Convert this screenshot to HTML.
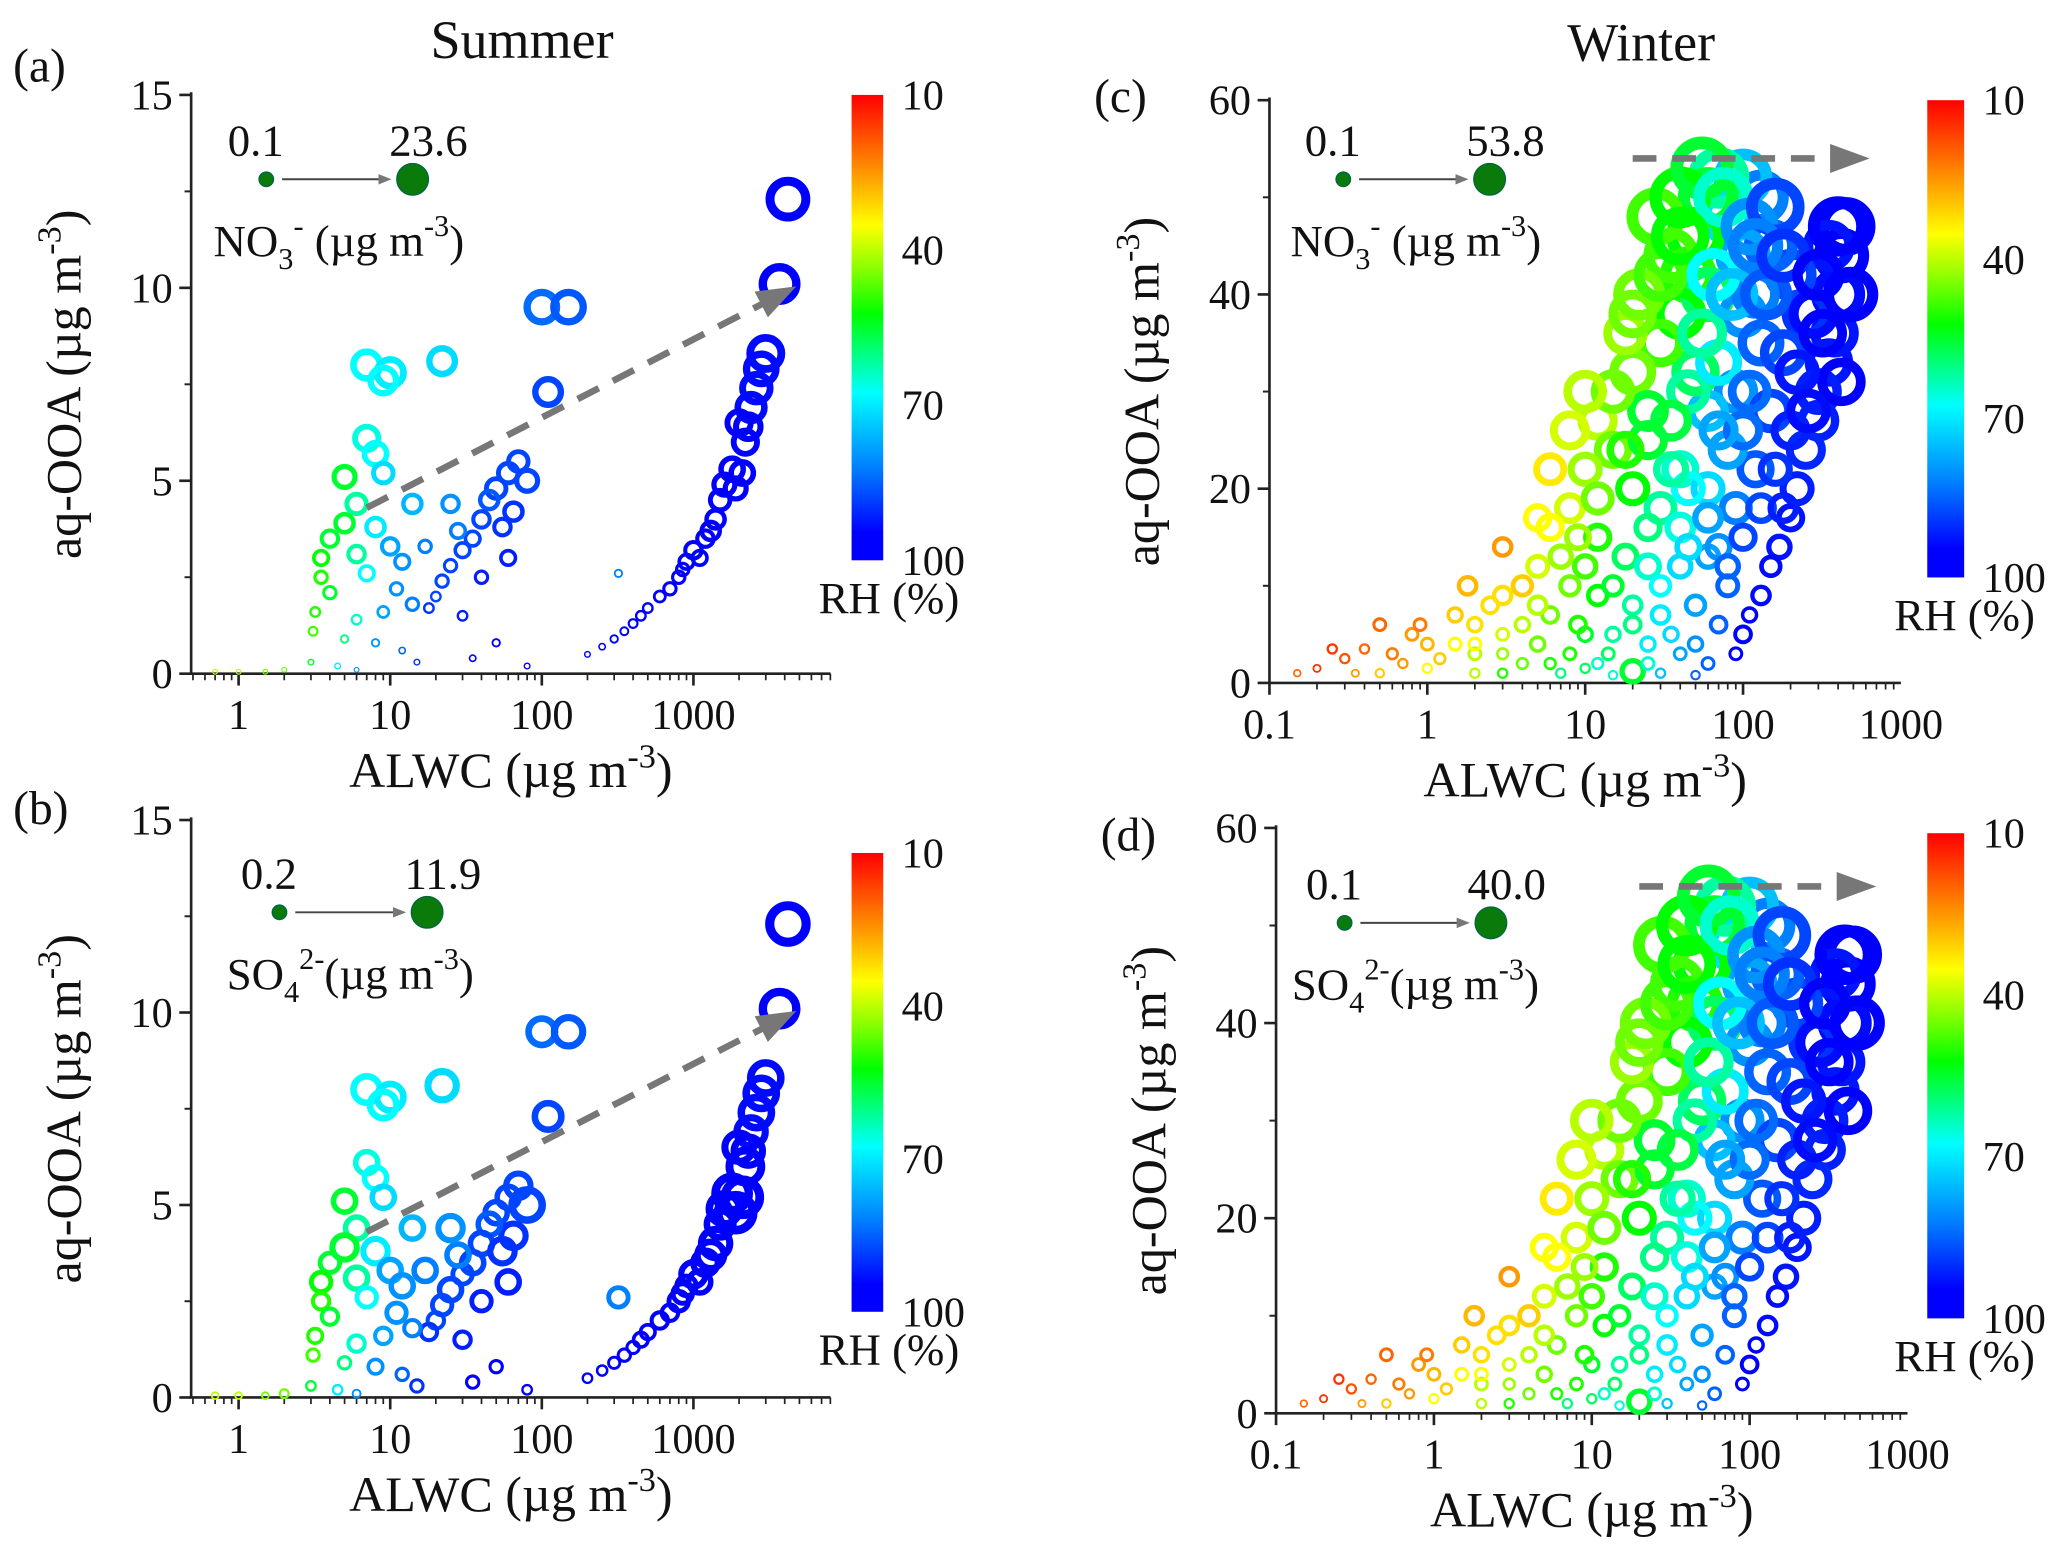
<!DOCTYPE html>
<html><head><meta charset="utf-8"><style>
html,body{margin:0;padding:0;background:#fff;}
svg{display:block;}
text{font-family:"Liberation Serif",serif;fill:#111;}
</style></head><body>
<svg id="fig" width="2067" height="1557" viewBox="0 0 1568 1181" preserveAspectRatio="none" xmlns="http://www.w3.org/2000/svg">
<defs>
<linearGradient id="rhgrad" x1="0" y1="0" x2="0" y2="1">
<stop offset="0" stop-color="#ff0000"/><stop offset="0.17" stop-color="#ff9900"/><stop offset="0.28" stop-color="#ffff00"/><stop offset="0.38" stop-color="#80ff00"/><stop offset="0.47" stop-color="#00ff00"/><stop offset="0.64" stop-color="#00ffff"/><stop offset="0.8" stop-color="#0080ff"/><stop offset="0.94" stop-color="#0000ff"/><stop offset="1" stop-color="#0000ff"/>
</linearGradient>
<marker id="ah" markerWidth="10" markerHeight="8" refX="2" refY="4" orient="auto" markerUnits="userSpaceOnUse" viewBox="0 0 10 8"><path d="M0,0 L10,4 L0,8 z" fill="#777"/></marker>
<marker id="ahs" markerWidth="30" markerHeight="22" refX="2" refY="11" orient="auto" markerUnits="userSpaceOnUse"><path d="M0,0 L30,11 L0,22 z" fill="#777"/></marker>
</defs>
<text x="396" y="44" font-size="41" text-anchor="middle">Summer</text>
<text x="1245" y="46" font-size="41" text-anchor="middle">Winter</text>
</svg>
<script>
// Summer data (ALWC, aq-OOA, RH, NO3-, SO4 2-)
const sALWC=[4200,3700,3000,2800,2600,2400,2300,2000,2200,2100,1800,1900,1600,1500,1400,1300,1200,1000,1100,900,850,800,700,600,500,450,400,350,300,320,250,200,
100,150,110,70,80,60,50,65,45,40,55,35,30,25,22,20,18,28,25,17,60,40,30,50,35,80,
7,10,9,22,7,8,5,9,14,6,5,4,8,10,12,6,3.5,3.5,4,7,11,14,9,6,3.2,3.1,5,8,12,15,3,4.5,6,1,1.5,0.7,2];
const sOOA=[12.3,10.1,8.3,7.9,7.4,6.9,6.4,6.5,6.0,5.2,5.3,4.8,4.9,4.5,4.0,3.7,3.5,3.2,3.0,2.9,2.7,2.5,2.2,2.0,1.7,1.5,1.3,1.1,0.9,2.6,0.7,0.5,
9.5,9.5,7.3,5.5,5.0,5.2,4.8,4.2,4.5,4.0,3.8,3.5,3.2,2.8,2.4,2.0,1.7,3.7,4.4,3.3,3.0,2.5,1.5,0.8,0.4,0.2,
8.0,7.8,7.6,8.1,6.1,5.7,5.1,5.2,4.4,4.4,3.9,3.5,3.8,3.3,2.9,3.1,3.0,2.5,2.1,2.6,2.2,1.8,1.6,1.4,1.6,1.1,0.9,0.8,0.6,0.3,0.3,0.2,0.1,0.05,0.05,0.05,0.1];
const sRH=[95,95,94,94,94,94,95,95,95,95,95,95,95,95,95,95,95,95,95,95,95,95,95,95,95,95,95,95,95,82,95,95,
84,86,88,88,88,88,88,90,86,88,90,88,88,88,88,88,90,82,80,82,92,92,92,95,95,95,
68,70,68,72,66,68,55,72,76,62,55,55,70,78,80,62,52,50,55,68,80,82,78,65,50,48,60,80,85,90,55,70,80,40,45,40,45];
const sNO3=[23,20,17,15,13,12,10,9,9,8,8,7,7,6,5,5,4,4,3,3,2,2,2,1.5,1,1,0.8,0.6,0.5,0.5,0.3,0.2,
15,15,11,6,7,6,6,5,5,4,4,3,3,2,2,1,1,3,4,2,3,2,1,0.5,0.3,0.2,
12,12,11,11,9,8,7,6,5,6,5,4,5,4,3,4,3,2,2,3,2,2,1.5,1,1,0.8,0.5,0.5,0.3,0.2,0.2,0.2,0.1,0.1,0.1,0.1,0.1];
const sSO4=[12,10,8,8,8,7,7,7,9,11,10,11,8,6,7,6,5,5,4,3,3,3,2,2,1.5,1.5,1,1,0.8,3,0.6,0.5,
6,7,6,5,8,4,4,5,4,4,5,4,3,4,3,2,2,4,5,4,4,3,2,1,1,0.5,
6,6,6,7,4,4,4,4,4,4,5,3,5,4,4,4,3,2,2,3,3,2,2,2,1.5,1,1,1.5,1,1,0.5,0.5,0.3,0.2,0.2,0.2,0.4];
// Winter data (ALWC, aq-OOA, RH, size)
const wALWC=[450,420,400,380,350,300,420,300,250,220,200,170,150,130,110,100,90,350,250,200,150,130,100,80,100,70,60,50,45,60,35,40,100,130,90,60,150,120,80,50,30,20,18,12,15,10,25,40,60,90,30,20,8,6,12,18,25,40,60,80,50,30,20,12,8,5,4,3,3,6,10,15,25,40,60,20,8,5,3,2,1.5,1.5,2,1,0.8,0.6,0.5,0.4,0.3,0.25,0.2,0.15,1,3,7,12,4,2,0.5,45,70,120,35,40,180,280,100,130,160,70,22,28,40,55,75,110,160,400,
15,20,30,10,7,5,9,14,25,35,50,70,80,45,35,25,15,8,10,20,30,40,55,65,85,120,140,180,220,200,180,260,320,300,480,2,1.2,0.7,0.9,0.35,3,6,10,15,30,50,4,2.5,1.8,60,25,12,18,5,6,9,110,70,45,100];
const wOOA=[47,44,40,36,33,30,31,27,24,20,17,14,12,9,7,5,3,45,38,42,45,50,52,48,44,52,50,46,42,40,44,38,38,35,30,28,28,22,24,32,35,32,36,27,24,22,25,22,20,18,18,20,18,16,15,13,12,12,13,10,8,7,8,9,10,12,10,14,9,7,5,5,4,3,2,1.2,3,4,5,6,7,4,3,4,5,3,6,3.5,2.5,3.5,1.5,1,1.5,1,1,2,2,1,1,30,33,40,27,16,34,38,26,18,22,14,40,48,50,53,50,47,49,47,
10,6,10,12,13,8,6,3,2,5,4,6,12,20,22,28,30,26,30,38,42,46,36,42,40,45,40,44,32,26,18,28,36,42,40,4,2.5,2,6,1,3,2,1.5,0.8,1,0.8,6,8,10,17,16,19,24,17,22,15,30,26,14,15];
const wRH=[95,95,94,93,93,92,95,92,91,92,93,93,94,94,95,95,95,93,90,88,85,82,75,72,78,62,55,52,50,58,48,52,80,85,80,75,88,86,78,58,48,45,42,40,45,42,55,65,72,82,62,52,38,35,50,58,65,72,78,85,78,70,62,52,45,38,30,25,32,45,55,62,70,78,85,55,50,45,38,32,30,35,40,28,25,22,20,20,18,15,15,20,35,50,60,65,45,40,30,62,70,82,56,66,88,94,84,88,90,80,45,48,52,55,65,80,88,96,
55,60,68,48,42,40,50,58,65,72,80,85,85,68,62,55,45,38,40,45,48,52,62,68,75,82,86,90,93,92,92,94,95,95,96,35,30,25,22,25,42,50,58,65,75,85,40,32,28,78,60,45,50,35,33,42,84,78,72,88];
const wSize=[45,40,38,30,30,28,30,22,20,15,10,8,6,5,3,4,2,35,30,35,38,40,45,42,40,50,48,45,42,40,40,35,30,28,25,22,25,18,20,30,30,28,25,20,18,15,20,18,15,14,14,15,12,10,10,9,9,8,8,7,6,5,5,6,6,7,6,5,5,4,3,3,3,2,2,8,2,3,2,3,3,2,2,2,2,1.5,2,1,1,1,0.5,0.4,1,1,1,1.5,1.5,1,0.8,25,28,30,22,12,28,32,20,12,15,9,35,45,50,53,48,44,45,48,
6,4,6,8,8,5,4,2,2,3,3,4,8,15,16,22,25,20,24,30,38,45,32,38,36,40,35,38,26,20,12,25,30,35,40,2,1.5,1,2,0.5,1.5,1.5,1,0.8,1,0.8,3,4,5,12,10,14,18,10,14,9,24,20,9,10];
// Axis ticks and legend labels
const sYTicks=[0,5,10,15];
const wYTicks=[0,20,40,60];
const sXTicks=[1,10,100,1000];
const wXTicks=[0.1,1,10,100,1000];
const rhTicks=[10,40,70,100];

const NS="http://www.w3.org/2000/svg";
const svg=document.getElementById('fig');
function mk(tag,attrs,parent){const e=document.createElementNS(NS,tag);for(const k in attrs)e.setAttribute(k,attrs[k]);(parent||svg).appendChild(e);return e;}
const stops=[[10,[255,0,0]],[25,[255,153,0]],[35,[255,255,0]],[44,[128,255,0]],[52,[0,255,0]],[68,[0,255,255]],[82,[0,128,255]],[95,[0,0,255]],[100,[0,0,255]]];
function rhColor(v){v=Math.max(10,Math.min(100,v));for(let i=0;i<stops.length-1;i++){const a=stops[i],b=stops[i+1];if(v<=b[0]){const t=(v-a[0])/(b[0]-a[0]);const c=a[1].map((x,j)=>Math.round(x+(b[1][j]-x)*t));return 'rgb('+c.join(',')+')';}}return 'rgb(0,0,255)';}

function panel(P){
  const g=mk('g',{});
  
  
  const xs=v=>P.x0+(Math.log10(v)-P.lmin)/(P.lmax-P.lmin)*(P.x1-P.x0);
  const ys=v=>P.yb-(v/P.ymax)*(P.yb-P.yt);
  const ax=mk('path',{d:`M${P.x0},${P.yt-2} L${P.x0},${P.yb} L${P.x1},${P.yb}`,stroke:'#222','stroke-width':2,fill:'none'},g);
  
  
  P.yticks.forEach((t,i)=>{
    const y=ys(t);
    mk('line',{x1:P.x0-9,x2:P.x0,y1:y,y2:y,stroke:'#222','stroke-width':2},g);
    if(i<P.yticks.length-1){const ym=ys(t+(P.yticks[1]-P.yticks[0])/2);mk('line',{x1:P.x0-5,x2:P.x0,y1:ym,y2:ym,stroke:'#222','stroke-width':1.5},g);}
    const tx=mk('text',{x:P.x0-14,y:y+11,'font-size':32,'text-anchor':'end'},g);tx.textContent=t;
    
    
  });
  for(let d=Math.floor(P.lmin);d<P.lmax;d++){for(let m=1;m<10;m++){const v=m*Math.pow(10,d);const lv=Math.log10(v);if(lv<P.lmin||lv>P.lmax)continue;const x=xs(v);mk('line',{x1:x,x2:x,y1:P.yb,y2:P.yb+(m==1?9:5),stroke:'#222','stroke-width':m==1?2:1.3},g);}}
  P.xticks.forEach(t=>{const tx=mk('text',{x:xs(t),y:P.yb+42,'font-size':32,'text-anchor':'middle'},g);tx.textContent=t;
    
    });
  const xt=mk('text',{x:(P.x0+P.x1)/2,y:P.yb+86,'font-size':38,'text-anchor':'middle'},g);
  xt.innerHTML='ALWC (µg m<tspan dy="-15" font-size="26">-3</tspan><tspan dy="15">)</tspan>';
  
  
  const yt=mk('text',{transform:`translate(${P.x0-84},${(P.yt+P.yb)/2}) rotate(-90)`,'font-size':38,'text-anchor':'middle'},g);
  yt.innerHTML='aq-OOA (µg m<tspan dy="-15" font-size="26">-3</tspan><tspan dy="15">)</tspan>';
  
  
  const pl=mk('text',{x:P.lx,y:P.ly,'font-size':36},g);pl.textContent=P.label;
  
  
  P.X.forEach((_,i)=>{
    const r=1.2+P.rmax*Math.sqrt(P.S[i]/P.smax);
    const sw=Math.max(0.8,r*0.4);
    const c=mk('circle',{cx:xs(P.X[i]),cy:ys(P.Y[i]),r:Math.max(0.6,r-sw/2),fill:'none',stroke:rhColor(P.R[i]),'stroke-width':sw},g);
    
    
  });
  const ar=mk('line',{x1:xs(P.arrow[0]),y1:ys(P.arrow[1]),x2:xs(P.arrow[2]),y2:ys(P.arrow[3]),stroke:'#777','stroke-width':5,'stroke-dasharray':'18,12','marker-end':'url(#ahs)'},g);
  
  
  const L=P.leg;
  const lg=mk('g',{},g);
  
  
  mk('circle',{cx:L.x,cy:L.y,r:5.5,fill:'#0a7a0a',stroke:'#064',"stroke-width":1},lg);
  mk('line',{x1:L.x+12,y1:L.y,x2:L.x2-24,y2:L.y,stroke:'#444','stroke-width':1.5,'marker-end':'url(#ah)'},lg);
  mk('circle',{cx:L.x2,cy:L.y,r:12,fill:'#0a7a0a',stroke:'#064',"stroke-width":1},lg);
  const t1=mk('text',{x:L.x-8,y:L.y-18,'font-size':34,'text-anchor':'middle'},lg);t1.textContent=L.min;
  const t2=mk('text',{x:L.x2+12,y:L.y-18,'font-size':34,'text-anchor':'middle'},lg);t2.textContent=L.max;
  const t3=mk('text',{x:L.x-40,y:L.y+58,'font-size':34},lg);t3.innerHTML=L.sp;
  const cb=mk('g',{},g);
  
  
  mk('rect',{x:P.cb[0],y:P.cb[1],width:P.cb[2],height:P.cb[3],fill:'url(#rhgrad)'},cb);
  rhTicks.forEach(t=>{const y=P.cb[1]+(t-10)/90*P.cb[3];const tt=mk('text',{x:P.cb[0]+P.cb[2]+14,y:y+11,'font-size':32},cb);tt.textContent=t;});
  const rt=mk('text',{x:P.cb[0]-25,y:P.cb[1]+P.cb[3]+40,'font-size':34},cb);rt.textContent='RH (%)';
}
const no3='NO<tspan dy="10" font-size="23">3</tspan><tspan dy="-25" font-size="23">-</tspan><tspan dy="15"> (µg m</tspan><tspan dy="-15" font-size="23">-3</tspan><tspan dy="15">)</tspan>';
const so4='SO<tspan dy="10" font-size="23">4</tspan><tspan dy="-25" font-size="23">2-</tspan><tspan dy="15">(µg m</tspan><tspan dy="-15" font-size="23">-3</tspan><tspan dy="15">)</tspan>';
panel({name:'panel-a',label:'(a)',lx:10,ly:62,x0:145,x1:630,lmin:-0.313,lmax:3.904,yt:72,yb:511,ymax:15,yticks:sYTicks,xticks:sXTicks,X:sALWC,Y:sOOA,R:sRH,S:sNO3,smax:23.6,rmax:16,arrow:[7,4.3,2900,9.6],leg:{x:202,x2:313,y:136,min:'0.1',max:'23.6',sp:no3},cb:[646,72,24,353]});
panel({name:'panel-b',label:'(b)',lx:10,ly:625,x0:145,x1:630,lmin:-0.313,lmax:3.904,yt:622,yb:1060,ymax:15,yticks:sYTicks,xticks:sXTicks,X:sALWC,Y:sOOA,R:sRH,S:sSO4,smax:11.9,rmax:16,arrow:[7,4.3,2900,9.6],leg:{x:212,x2:324,y:692,min:'0.2',max:'11.9',sp:so4},cb:[646,647,24,348]});
panel({name:'panel-c',label:'(c)',lx:830,ly:85,x0:963,x1:1442,lmin:-1,lmax:3,yt:76,yb:518,ymax:60,yticks:wYTicks,xticks:wXTicks,X:wALWC,Y:wOOA,R:wRH,S:wSize,smax:53.8,rmax:23,arrow:[20,54,370,54],leg:{x:1019,x2:1130,y:136,min:'0.1',max:'53.8',sp:no3},cb:[1462,76,28,362]});
panel({name:'panel-d',label:'(d)',lx:835,ly:645,x0:968,x1:1447,lmin:-1,lmax:3,yt:628,yb:1072,ymax:60,yticks:wYTicks,xticks:wXTicks,X:wALWC,Y:wOOA,R:wRH,S:wSize,smax:53.8,rmax:23,arrow:[20,54,370,54],leg:{x:1020,x2:1131,y:700,min:'0.1',max:'40.0',sp:so4},cb:[1462,632,28,368]});
</script>
</body></html>
